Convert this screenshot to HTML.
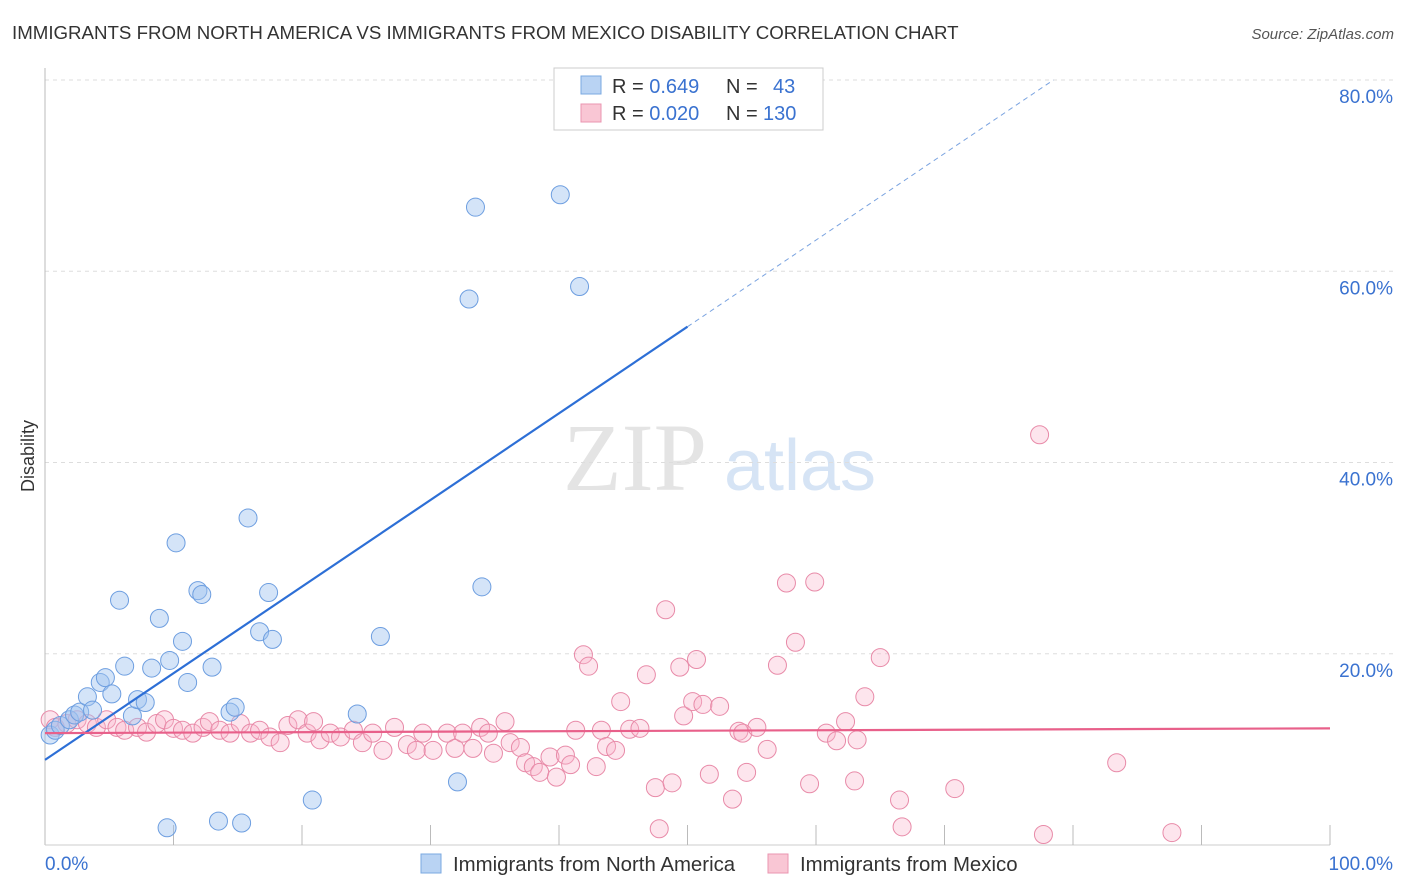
<!DOCTYPE html>
<html><head><meta charset="utf-8"><style>
body{margin:0;background:#fff;font-family:"Liberation Sans",sans-serif;}
svg{display:block}
</style></head><body>
<svg id="chart" width="1406" height="892" xmlns="http://www.w3.org/2000/svg">
<text x="12" y="39" font-size="18.7" fill="#333">IMMIGRANTS FROM NORTH AMERICA VS IMMIGRANTS FROM MEXICO DISABILITY CORRELATION CHART</text>
<text x="1394" y="39" font-size="15" fill="#555" font-style="italic" text-anchor="end">Source: ZipAtlas.com</text>
<text x="34" y="456" font-size="18" fill="#333" text-anchor="middle" transform="rotate(-90 34 456)">Disability</text>
<g>
<text x="635" y="490" font-size="96" fill="#e4e4e4" font-family="Liberation Serif,serif" text-anchor="middle">ZIP</text>
<text x="800" y="490" font-size="72" fill="#d6e4f5" text-anchor="middle">atlas</text>
</g>
<g id="grid"></g>
<g id="axes"></g>
<g id="marks"></g>
<g>
<rect x="554" y="68" width="269" height="62" fill="#fff" stroke="#ccc"/>
<rect x="581" y="76" width="20" height="18" fill="#b9d3f3" stroke="#7aa8e0"/>
<rect x="581" y="104" width="20" height="18" fill="#f9c6d4" stroke="#ea95b0"/>
<text x="612" y="93" font-size="20" fill="#333">R = <tspan fill="#3a72d0">0.649</tspan><tspan x="726">N = </tspan><tspan x="773" fill="#3a72d0">43</tspan></text>
<text x="612" y="120" font-size="20" fill="#333">R = <tspan fill="#3a72d0">0.020</tspan><tspan x="726">N = </tspan><tspan x="763" fill="#3a72d0">130</tspan></text>
</g>
<g>
<rect x="421" y="854" width="20" height="19" fill="#b9d3f3" stroke="#7aa8e0"/>
<text x="453" y="871" font-size="20.4" fill="#333">Immigrants from North America</text>
<rect x="768" y="854" width="20" height="19" fill="#f9c6d4" stroke="#ea95b0"/>
<text x="800" y="871" font-size="20.4" fill="#333">Immigrants from Mexico</text>
</g>
</svg>
<script>
const yTicks=[20,40,60,80];
const yTickLabels=["20.0%","40.0%","60.0%","80.0%"];
const xTickLabels=["0.0%","100.0%"];
const blueX=[0.4,0.8,1.2,1.9,2.3,2.7,3.3,3.7,4.3,4.7,5.2,5.8,6.2,6.8,7.2,7.8,8.3,8.9,9.7,10.2,10.7,11.1,11.9,12.2,13.0,14.4,14.8,15.8,16.7,17.4,17.7,20.8,24.3,26.1,32.1,33.0,33.5,34.0,40.1,41.6,9.5,13.5,15.3];
const blueY=[11.5,12.0,12.5,13.1,13.6,13.9,15.5,14.1,17.0,17.5,15.8,25.6,18.7,13.5,15.2,14.9,18.5,23.7,19.3,31.6,21.3,17.0,26.6,26.2,18.6,13.9,14.4,34.2,22.3,26.4,21.5,4.7,13.7,21.8,6.6,57.1,66.7,27.0,68.0,58.4,1.8,2.5,2.3];
const pinkX=[0.4,0.8,1.7,2.5,3.3,4.0,4.8,5.6,6.2,7.2,7.9,8.7,9.3,10.0,10.7,11.5,12.3,12.8,13.6,14.4,15.2,16.0,16.7,17.5,18.3,18.9,19.7,20.4,20.9,21.4,22.2,23.0,24.0,24.7,25.5,26.3,27.2,28.2,28.9,29.4,30.2,31.3,31.9,32.5,33.3,33.9,34.5,34.9,35.8,36.2,37.0,37.4,38.0,38.5,39.3,39.8,40.5,40.9,41.3,41.9,42.3,42.9,43.3,43.7,44.4,44.8,45.5,46.3,46.8,47.5,47.8,48.3,48.8,49.4,49.7,50.4,50.7,51.2,51.7,52.5,53.5,54.0,54.3,54.6,55.4,56.2,57.0,57.7,58.4,59.5,59.9,60.8,61.6,62.3,63.0,63.2,63.8,65.0,66.5,66.7,70.8,77.4,77.7,83.4,87.7];
const pinkY=[13.1,12.3,12.7,13.1,12.7,12.3,13.1,12.3,12.0,12.3,11.8,12.7,13.1,12.2,12.0,11.7,12.3,12.9,12.0,11.7,12.7,11.7,12.0,11.3,10.7,12.5,13.1,11.7,12.9,11.0,11.7,11.3,12.0,10.7,11.7,9.9,12.3,10.5,9.9,11.7,9.9,11.7,10.1,11.7,10.1,12.3,11.7,9.6,12.9,10.7,10.2,8.6,8.2,7.6,9.2,7.1,9.4,8.4,12.0,19.9,18.7,8.2,12.0,10.3,9.9,15.0,12.1,12.2,17.8,6.0,1.7,24.6,6.5,18.6,13.5,15.0,19.4,14.7,7.4,14.5,4.8,11.9,11.7,7.6,12.3,10.0,18.8,27.4,21.2,6.4,27.5,11.7,10.9,12.9,6.7,11.0,15.5,19.6,4.7,1.9,5.9,42.9,1.1,8.6,1.3];
const blueFit=[8.9,0.906];
const pinkFit=[11.7,0.005];

const NS="http://www.w3.org/2000/svg";
const X0=45,X1=1330,Y0=845,Y80=80;
function sx(v){return X0+(X1-X0)*v/100;}
function sy(v){return Y0-(Y0-Y80)*v/80;}
function mk(tag,attrs,parent){const e=document.createElementNS(NS,tag);for(const k in attrs)e.setAttribute(k,attrs[k]);parent.appendChild(e);return e;}
const grid=document.getElementById('grid'),axes=document.getElementById('axes'),marks=document.getElementById('marks');
yTicks.forEach((t,i)=>{
 const l=mk('line',{x1:X0,x2:1393,y1:sy(t),y2:sy(t),stroke:'#ddd','stroke-dasharray':'4,4'},grid);
 
 
 const tx=mk('text',{x:1393,y:sy(t)+23,'font-size':19,fill:'#3a72d0','text-anchor':'end'},axes);
 tx.textContent=yTickLabels[i];
 
 
});
const ax=mk('line',{x1:X0,x2:X0,y1:68,y2:Y0,stroke:'#bbb'},axes);


const bx=mk('line',{x1:X0,x2:X1,y1:Y0,y2:Y0,stroke:'#ccc'},axes);


for(let i=1;i<=10;i++){
 const t=mk('line',{x1:sx(i*10),x2:sx(i*10),y1:Y0-20,y2:Y0,stroke:'#bbb'},axes);
 
 
}
[[0,'start',45],[100,'end',1393]].forEach((p,i)=>{
 const tx=mk('text',{x:p[2],y:870,'font-size':19,fill:'#3a72d0','text-anchor':p[1]},axes);
 tx.textContent=xTickLabels[i];
 
 
});
pinkX.forEach((x,i)=>{
 const c=mk('circle',{cx:sx(x),cy:sy(pinkY[i]),r:9,fill:'rgba(248,180,202,0.35)',stroke:'#e88aa8','stroke-width':1},marks);
 
 
});
blueX.forEach((x,i)=>{
 const c=mk('circle',{cx:sx(x),cy:sy(blueY[i]),r:9,fill:'rgba(160,195,240,0.45)',stroke:'#6d9ee0','stroke-width':1},marks);
 
 
});
const bEnd=50,bDash=(80-blueFit[0])/blueFit[1];
const bl=mk('line',{x1:sx(0),y1:sy(blueFit[0]),x2:sx(bEnd),y2:sy(blueFit[0]+blueFit[1]*bEnd),stroke:'#2d6fd6','stroke-width':2.2},marks);


const bd=mk('line',{x1:sx(bEnd),y1:sy(blueFit[0]+blueFit[1]*bEnd),x2:sx(bDash),y2:sy(80),stroke:'#7aa3e0','stroke-width':1,'stroke-dasharray':'5,4'},marks);


const pl=mk('line',{x1:sx(0),y1:sy(pinkFit[0]),x2:sx(100),y2:sy(pinkFit[0]+pinkFit[1]*100),stroke:'#e8608a','stroke-width':2.2},marks);


</script>
</body></html>
